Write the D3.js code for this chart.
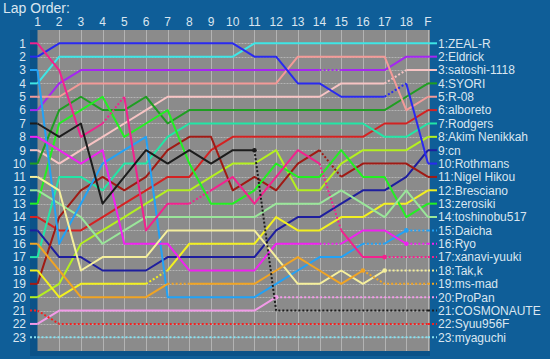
<!DOCTYPE html>
<html><head><meta charset="utf-8">
<script src="https://cdn.jsdelivr.net/npm/d3@7"></script>
<style>html,body{margin:0;padding:0;background:#0f5e98;} svg{display:block}</style>
</head><body><svg id="c" width="550" height="359"></svg>
<script>
const laps = ["1","2","3","4","5","6","7","8","9","10","11","12","13","14","15","16","17","18","F"];
const names = ["ZEAL-R","Eldrick","satoshi-1118","SYORI","R-08","alboreto","Rodgers","Akim Nenikkah","cn","Rothmans","Nigel Hikou","Bresciano","zerosiki","toshinobu517","Daicha","Ryo","xanavi-yuuki","Tak,k","ms-mad","ProPan","COSMONAUTE","Syuu956F","myaguchi"];
const colors = ["#3ee6e6","#a526f2","#f7c4c4","#1f9e22","#f39a98","#d42222","#22e6a6","#b4f020","#1e1e9e","#2a2af0","#a01a14","#f2f020","#22f022","#9ae69a","#22a2f6","#f022f0","#f2228e","#f5ef9c","#f0a424","#f29ae8","#1c1c1c","#f22222","#86e0f0"];
// positions per lap (1..18, F)
const pZEALR    = [4,2,2,2,2,2,2,2,2,2,1,1,1,1,1,1,1,1,1];
const pEldrick  = [6,4,3,3,3,3,3,3,3,3,3,3,3,3,3,3,3,2,2];
const pSatoshi  = [9,10,9,8,7,6,5,5,5,5,5,5,5,5,4,4,4,3,3];
const pSYORI    = [10,6,5,6,6,5,7,6,6,6,6,6,6,6,6,6,6,5,4];
const pR08      = [5,5,4,4,4,4,4,4,4,4,4,4,2,2,2,2,2,6,5];
const pAlboreto = [14,15,15,14,13,12,11,11,9,8,8,8,8,8,8,8,7,7,6];
const pRodgers  = [17,11,11,12,10,10,8,7,7,7,7,7,7,7,7,7,8,8,7];
const pAkim     = [20,19,16,15,14,13,12,12,11,10,10,9,12,12,10,9,9,9,8];
const pCn       = [15,17,17,18,18,18,17,17,17,17,17,15,14,14,13,12,12,11,9];
const pRothmans = [2,1,1,1,1,1,1,1,1,1,2,2,4,4,5,5,5,4,10];
const pNigel    = [19,14,12,11,12,11,9,8,8,12,11,12,10,9,11,10,10,10,11];
const pBresc    = [18,20,19,19,19,19,18,16,16,16,16,14,15,15,14,14,13,13,12];
const pZerosiki = [13,7,6,5,8,7,6,10,13,13,12,10,11,11,9,11,11,14,13];
const pToshi    = [12,13,14,16,15,14,14,14,14,14,14,13,13,13,12,13,14,12,14];
const pDaicha   = [3,16,13,10,9,8,20,20,20,20,20,19,18,17,17,16,16,15,15];
const pRyo      = [8,9,10,9,16,16,16,18,18,18,18,16,16,16,16,15,15,16,16];
const pXanavi   = [1,3,8,7,5,15,13,13,12,11,13,11,9,10,15,17,17,17,17];
const pTakk     = [11,12,18,17,17,17,15,15,15,15,15,17,19,19,18,19,18,18,18];
const pMsmad    = [16,18,20,20,20,20,19,19,19,19,19,18,17,18,19,18,19,19,19];
const pProPan   = [22,21,21,21,21,21,21,21,21,21,21,20,20,20,20,20,20,20,20];
const pCosmo    = [7,8,7,13,11,9,10,9,10,9,9,21,21,21,21,21,21,21,21];
const pSyuu     = [21,22,22,22,22,22,22,22,22,22,22,22,22,22,22,22,22,22,22];
const pMyaguchi = [23,23,23,23,23,23,23,23,23,23,23,23,23,23,23,23,23,23,23];
const positions = [pZEALR,pEldrick,pSatoshi,pSYORI,pR08,pAlboreto,pRodgers,pAkim,pCn,pRothmans,pNigel,pBresc,pZerosiki,pToshi,pDaicha,pRyo,pXanavi,pTakk,pMsmad,pProPan,pCosmo,pSyuu,pMyaguchi];
// dotted segment indices (segment i joins lap i and lap i+1)
const allSegs = d3.range(18);
const dottedSegs = [[],[13],[16],[],[],[],[],[],[],[16],[13],[5],[],[],[15,17],[13,17],[3,7,13,16,17],[16,17],[6,15,16,17],d3.range(11,18),d3.range(10,18),allSegs,allSegs];
// lap index where a marker dot is drawn (or -1)
const markerAt = [-1,-1,-1,-1,-1,-1,-1,-1,-1,-1,-1,-1,-1,-1,17,17,16,16,15,11,10,-1,-1];

const svg = d3.select("#c");
const W = 550, H = 359;
const plot = {l:37.5, r:430, t:30, b:351};
const x = d3.scaleLinear().domain([0, 18]).range([37.5, 428]);
const y = d3.scaleLinear().domain([1, 23]).range([43.3, 337.3]);
const txt = "#dae6f0";
const font = "Liberation Sans, Arial, sans-serif";

svg.append("rect").attr("width",W).attr("height",H).attr("fill","#0f5e98");
svg.append("rect").attr("x",30).attr("y",plot.t).attr("width",plot.r-30).attr("height",plot.b-plot.t+5).attr("fill","#0b5288");
svg.append("rect").attr("x",plot.l).attr("y",plot.t).attr("width",plot.r-plot.l).attr("height",plot.b-plot.t).attr("fill","#8b8b8b");

const g = svg.append("g");
// grid
g.selectAll(".vg").data(laps.slice(1)).join("line")
  .attr("x1",(d,i)=>Math.round(x(i+1))+0.5).attr("x2",(d,i)=>Math.round(x(i+1))+0.5)
  .attr("y1",plot.t).attr("y2",plot.b).attr("stroke","#b3b3b3").attr("stroke-width",1);
g.selectAll(".hg").data(d3.range(1,24)).join("line")
  .attr("x1",plot.l).attr("x2",plot.r)
  .attr("y1",d=>Math.round(y(d))+0.5).attr("y2",d=>Math.round(y(d))+0.5)
  .attr("stroke","#b3b3b3").attr("stroke-width",1).attr("stroke-dasharray","2,1");

// title & labels
svg.append("text").attr("x",3).attr("y",13).attr("fill",txt).attr("font-family",font).attr("font-size",14).text("Lap Order:");
svg.selectAll(".lx").data(laps).join("text")
  .attr("x",(d,i)=>x(i)).attr("y",26).attr("text-anchor","middle")
  .attr("fill",txt).attr("font-family",font).attr("font-size",12).text(d=>d);
svg.selectAll(".ly").data(d3.range(1,24)).join("text")
  .attr("x",26).attr("y",d=>y(d)).attr("dy","0.36em").attr("text-anchor","end")
  .attr("fill",txt).attr("font-family",font).attr("font-size",12).text(d=>d);

const line = d3.line().x(d=>d[0]).y(d=>d[1]);
const lw = 2;
positions.forEach((pos, k) => {
  const col = colors[k];
  const dots = new Set(dottedSegs[k]);
  let runStart = 0;
  for (let i = 0; i < 18; i++) {
    const style = dots.has(i);
    if (i === 17 || dots.has(i+1) !== style) {
      const pts = d3.range(runStart, i+2).map(j => [x(j), y(pos[j])]);
      svg.append("path").attr("d", line(pts)).attr("fill","none")
        .attr("stroke", col).attr("stroke-width", lw)
        .attr("stroke-linejoin","round")
        .attr("stroke-dasharray", style ? "2,2" : null);
      runStart = i+1;
    }
  }
  svg.append("line").attr("x1",30).attr("x2",x(0)).attr("y1",y(pos[0])).attr("y2",y(pos[0]))
    .attr("stroke",col).attr("stroke-width",lw).attr("stroke-dasharray", dots.has(0) ? "2,2" : null);
  svg.append("line").attr("x1",x(18)).attr("x2",437).attr("y1",y(pos[18])).attr("y2",y(pos[18]))
    .attr("stroke",col).attr("stroke-width",lw).attr("stroke-dasharray", dots.has(17) ? "2,2" : null);
  if (markerAt[k] >= 0) {
    svg.append("circle").attr("cx",x(markerAt[k])).attr("cy",y(pos[markerAt[k]])).attr("r",2.3).attr("fill",col);
  }
  svg.append("text").attr("x",438).attr("y",y(pos[18])).attr("dy","0.36em")
    .attr("fill",txt).attr("font-family",font).attr("font-size",12).text(pos[18]+":"+names[k]);
});
</script></body></html>
